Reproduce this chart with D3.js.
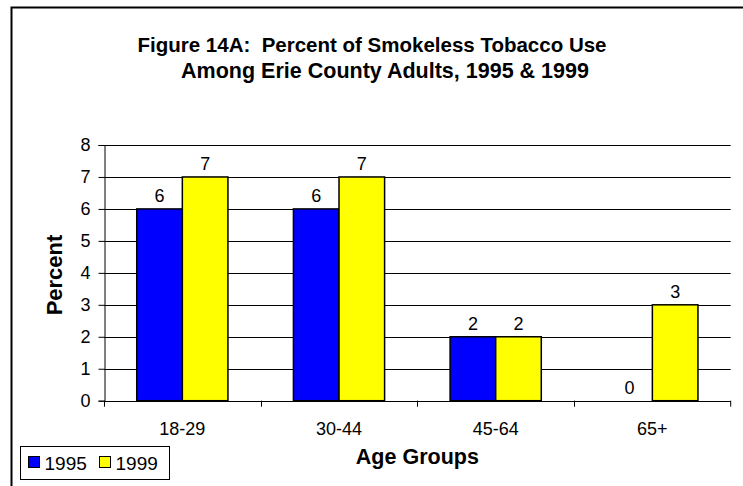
<!DOCTYPE html>
<html><head><meta charset="utf-8">
<script src="https://cdn.jsdelivr.net/npm/d3@7"></script>
<style>body{margin:0;background:#fff}svg{display:block}text{font-family:Arial,"Liberation Sans",sans-serif;fill:#000;white-space:pre}</style>
</head><body><div id="chart"></div>
<script>
const categories = ["18-29", "30-44", "45-64", "65+"];
const seriesNames = ["1995", "1999"];
const values1995 = [6, 6, 2, 0];
const values1999 = [7, 7, 2, 3];
const yTicks = [0, 1, 2, 3, 4, 5, 6, 7, 8];
const colors = ["#0000FF", "#FFFF00"];
const titleLines = ["Figure 14A:  Percent of Smokeless Tobacco Use", "Among Erie County Adults, 1995 & 1999"];

const W = 743, H = 486;
const m = {left: 104, right: 12.3, top: 145, bottom: 85.3};
const FF = "Arial, 'Liberation Sans', sans-serif";
const svg = d3.select("#chart").append("svg").attr("width", W).attr("height", H);

// outer frame
svg.append("rect").attr("x", 11.5).attr("y", 7.5).attr("width", W).attr("height", H)
  .attr("fill", "none").attr("stroke", "#000").attr("stroke-width", 2);

const x0 = d3.scaleBand().domain(categories).range([m.left, W - m.right]).paddingInner(0.418).paddingOuter(0.209);
const band = d3.scaleBand().domain(categories).range([m.left, W - m.right]);
const x1 = d3.scaleBand().domain(seriesNames).range([0, x0.bandwidth()]);
const y = d3.scaleLinear().domain([0, 8]).range([H - m.bottom, m.top]);

// gridlines
svg.append("g").selectAll("line").data(yTicks.filter(d => d > 0)).join("line")
  .attr("x1", m.left).attr("x2", W - m.right)
  .attr("y1", d => Math.round(y(d)) + 0.5).attr("y2", d => Math.round(y(d)) + 0.5)
  .attr("stroke", "#000").attr("stroke-width", 1);

// bars
const data = categories.map((c, i) => ({cat: c, vals: [values1995[i], values1999[i]]}));
const g = svg.append("g");
data.forEach(d => {
  d.vals.forEach((v, j) => {
    const bx = x0(d.cat) + x1(seriesNames[j]);
    if (v > 0) {
      g.append("rect").attr("x", bx).attr("y", y(v)).attr("width", x1.bandwidth()).attr("height", y(0) - y(v))
        .attr("fill", colors[j]).attr("stroke", "#000").attr("stroke-width", 1.5);
    }
    g.append("text").attr("x", bx + x1.bandwidth() / 2).attr("y", y(v) - 7)
      .attr("text-anchor", "middle").attr("font-size", 18).text(v);
  });
});

// y axis
const yAxis = d3.axisLeft(y).tickValues(yTicks).tickSize(6).tickPadding(8).tickFormat(d3.format("d"));
const ya = svg.append("g").attr("transform", `translate(${m.left + 0.5},0)`).call(yAxis)
  .attr("font-size", 18).attr("font-family", FF);
ya.select(".domain").attr("stroke", "#000");
ya.selectAll("line").attr("stroke", "#000");
ya.selectAll("text").attr("fill", "#000");

// x axis
const xAxis = d3.axisBottom(band).tickSize(0).tickPadding(21);
const xa = svg.append("g").attr("transform", `translate(0,${Math.round(y(0)) + 0.5})`).call(xAxis)
  .attr("font-size", 18).attr("font-family", FF);
xa.select(".domain").attr("stroke", "#000").attr("d", `M${m.left},0H${W - m.right}`);
xa.selectAll("text").attr("fill", "#000");
// category boundary ticks
svg.append("g").selectAll("line").data(categories.concat(["end"])).join("line")
  .attr("x1", (d, i) => i < categories.length ? Math.round(band(d)) + 0.5 : W - m.right)
  .attr("x2", (d, i) => i < categories.length ? Math.round(band(d)) + 0.5 : W - m.right)
  .attr("y1", y(0)).attr("y2", y(0) + 6).attr("stroke", "#000");

// title
svg.append("text").attr("x", 372).attr("y", 52).attr("text-anchor", "middle").attr("font-weight", "bold").attr("font-size", 20.5).text(titleLines[0]);
svg.append("text").attr("x", 385).attr("y", 78).attr("text-anchor", "middle").attr("font-weight", "bold").attr("font-size", 21.5).text(titleLines[1]);

// axis titles
svg.append("text").attr("x", (m.left + W - m.right) / 2).attr("y", 464).attr("text-anchor", "middle")
  .attr("font-weight", "bold").attr("font-size", 21.5).text("Age Groups");
svg.append("text").attr("transform", `translate(62,275) rotate(-90)`).attr("text-anchor", "middle")
  .attr("font-weight", "bold").attr("font-size", 22).text("Percent");

// legend
const lg = svg.append("g");
lg.append("rect").attr("x", 20.5).attr("y", 446.5).attr("width", 149).attr("height", 33)
  .attr("fill", "#fff").attr("stroke", "#000").attr("stroke-width", 1);
const lx = [28.5, 99.5];
seriesNames.forEach((s, i) => {
  lg.append("rect").attr("x", lx[i]).attr("y", 456.5).attr("width", 11).attr("height", 11)
    .attr("fill", colors[i]).attr("stroke", "#000").attr("stroke-width", 1);
  lg.append("text").attr("x", lx[i] + 16).attr("y", 469.5).attr("font-size", 19).text(s);
});
</script></body></html>
